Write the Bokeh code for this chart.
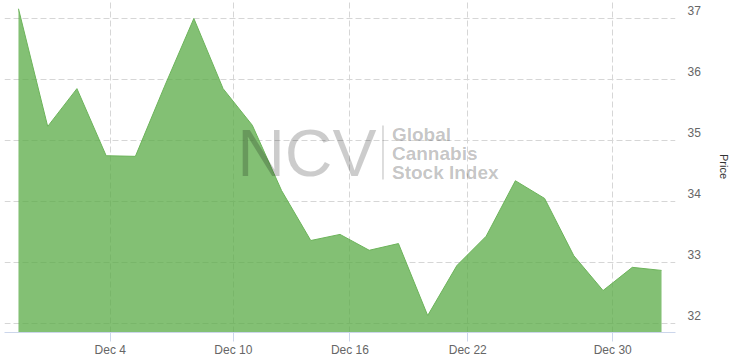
from bokeh.plotting import figure
from bokeh.models import Range1d, FixedTicker, Label
from bokeh.embed import file_html
from bokeh.resources import INLINE

# ---- data ----
prices = [37.16, 35.23, 35.85, 34.75, 34.74, 35.89, 37.00, 35.85, 35.25, 34.18,
          33.36, 33.46, 33.20, 33.31, 32.13, 32.95, 33.43, 34.34, 34.05, 33.11,
          32.54, 32.92, 32.87]
idx = list(range(len(prices)))
tick_pos = [3.14, 7.35, 11.34, 15.37, 20.33]
tick_labels = ["Dec 4", "Dec 10", "Dec 16", "Dec 22", "Dec 30"]
y_ticks = [32, 33, 34, 35, 36, 37]

Y0, Y1 = 31.852, 37.295
LBL_SHIFT = 8 / 61.0   # labels sit ~8px above their grid line
p = figure(width=732, height=361, x_range=Range1d(-0.478, 22.478),
           y_range=Range1d(Y0, Y1), y_axis_location="right",
           toolbar_location=None, output_backend="svg",
           min_border_left=4, min_border_top=0, min_border_right=56,
           min_border_bottom=29, outline_line_color=None)
p.extra_y_ranges = {"lbl": Range1d(Y0 - LBL_SHIFT, Y1 - LBL_SHIFT)}

# grid
p.xgrid.ticker = FixedTicker(ticks=tick_pos)
p.ygrid.ticker = FixedTicker(ticks=y_ticks)
for g in (p.xgrid, p.ygrid):
    g.grid_line_color = "#d6d6d6"
    g.grid_line_dash = "6 3"
    g.grid_line_width = 1

# x axis
xa = p.xaxis[0]
xa.ticker = FixedTicker(ticks=tick_pos)
xa.major_label_overrides = {t: l for t, l in zip(tick_pos, tick_labels)}
xa.axis_line_color = "#ccd6eb"
xa.major_tick_line_color = "#ccd6eb"
xa.major_tick_out = 9
xa.major_tick_in = 0
xa.minor_tick_line_color = None
xa.major_label_text_color = "#666666"
xa.major_label_text_font = "Liberation Sans"
xa.major_label_text_font_size = "12px"
xa.major_label_standoff = 1

# y axis on a slightly shifted range so labels sit above grid lines
ya = p.yaxis[0]
ya.y_range_name = "lbl"
ya.ticker = FixedTicker(ticks=y_ticks)
ya.axis_line_color = None
ya.major_tick_line_color = None
ya.minor_tick_line_color = None
ya.major_tick_out = 0
ya.major_tick_in = 0
ya.minor_tick_out = 0
ya.minor_tick_in = 0
ya.major_label_text_color = "#666666"
ya.major_label_text_font = "Liberation Sans"
ya.major_label_text_font_size = "12px"
ya.major_label_standoff = 12
ya.axis_label = "Price"
ya.axis_label_text_font = "Liberation Sans"
ya.axis_label_text_font_style = "normal"
ya.axis_label_text_font_size = "11px"
ya.axis_label_text_color = "#333333"
ya.axis_label_standoff = 14

# area
p.varea(x=idx, y1=[Y0] * len(prices), y2=prices,
        fill_color="#5aab45", fill_alpha=0.75)
p.line(x=idx, y=prices, line_color="#6cb35a", line_width=1)


def dx(px):
    return (px - 18) / 29.27


def dy(py):
    return 37 - (py - 18) / 61.0


# watermark
p.add_layout(Label(x=dx(237), y=dy(153), text="NCV", text_font="Liberation Sans",
                   text_font_size="66px", text_color="black", text_alpha=0.2,
                   text_baseline="middle"))
p.segment(x0=[dx(383)], y0=[dy(125)], x1=[dx(383)], y1=[dy(179)],
          line_color="black", line_alpha=0.18, line_width=1.5)
for t, cy in zip(["Global", "Cannabis", "Stock Index"], [134, 153, 172]):
    p.add_layout(Label(x=dx(392), y=dy(cy), text=t, text_font="Liberation Sans",
                       text_font_size="19px", text_font_style="bold",
                       text_color="black", text_alpha=0.24,
                       text_baseline="middle"))

open("out.html", "w").write(file_html(p, INLINE))
